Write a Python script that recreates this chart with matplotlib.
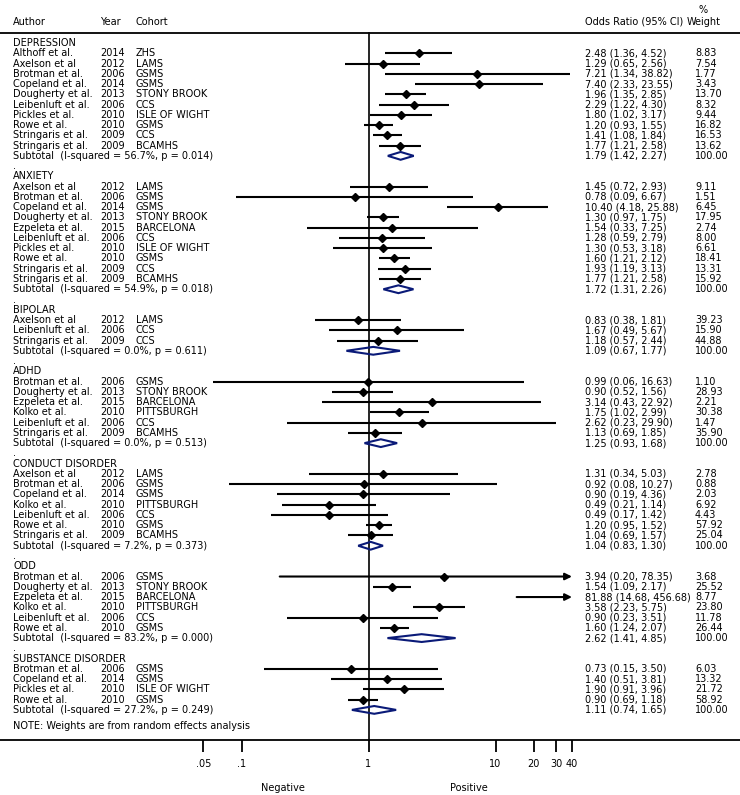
import matplotlib
matplotlib.use("Agg")
import matplotlib.pyplot as plt
import matplotlib.transforms as mtransforms
from matplotlib.patches import Polygon

# ---------------- data ----------------
groups = ["DEPRESSION", "ANXIETY", "BIPOLAR", "ADHD", "CONDUCT DISORDER", "ODD", "SUBSTANCE DISORDER"]

study_group = (["DEPRESSION"] * 10 + ["ANXIETY"] * 10 + ["BIPOLAR"] * 3 + ["ADHD"] * 6
               + ["CONDUCT DISORDER"] * 7 + ["ODD"] * 6 + ["SUBSTANCE DISORDER"] * 4)
study_author = [
    "Althoff et al.", "Axelson et al", "Brotman et al.", "Copeland et al.", "Dougherty et al.",
    "Leibenluft et al.", "Pickles et al.", "Rowe et al.", "Stringaris et al.", "Stringaris et al.",
    "Axelson et al", "Brotman et al.", "Copeland et al.", "Dougherty et al.", "Ezpeleta et al.",
    "Leibenluft et al.", "Pickles et al.", "Rowe et al.", "Stringaris et al.", "Stringaris et al.",
    "Axelson et al", "Leibenluft et al.", "Stringaris et al.",
    "Brotman et al.", "Dougherty et al.", "Ezpeleta et al.", "Kolko et al.", "Leibenluft et al.", "Stringaris et al.",
    "Axelson et al", "Brotman et al.", "Copeland et al.", "Kolko et al.", "Leibenluft et al.", "Rowe et al.", "Stringaris et al.",
    "Brotman et al.", "Dougherty et al.", "Ezpeleta et al.", "Kolko et al.", "Leibenluft et al.", "Rowe et al.",
    "Brotman et al.", "Copeland et al.", "Pickles et al.", "Rowe et al.",
]
study_year = [
    2014, 2012, 2006, 2014, 2013, 2006, 2010, 2010, 2009, 2009,
    2012, 2006, 2014, 2013, 2015, 2006, 2010, 2010, 2009, 2009,
    2012, 2006, 2009,
    2006, 2013, 2015, 2010, 2006, 2009,
    2012, 2006, 2014, 2010, 2006, 2010, 2009,
    2006, 2013, 2015, 2010, 2006, 2010,
    2006, 2014, 2010, 2010,
]
study_cohort = [
    "ZHS", "LAMS", "GSMS", "GSMS", "STONY BROOK", "CCS", "ISLE OF WIGHT", "GSMS", "CCS", "BCAMHS",
    "LAMS", "GSMS", "GSMS", "STONY BROOK", "BARCELONA", "CCS", "ISLE OF WIGHT", "GSMS", "CCS", "BCAMHS",
    "LAMS", "CCS", "CCS",
    "GSMS", "STONY BROOK", "BARCELONA", "PITTSBURGH", "CCS", "BCAMHS",
    "LAMS", "GSMS", "GSMS", "PITTSBURGH", "CCS", "GSMS", "BCAMHS",
    "GSMS", "STONY BROOK", "BARCELONA", "PITTSBURGH", "CCS", "GSMS",
    "GSMS", "GSMS", "ISLE OF WIGHT", "GSMS",
]
study_or = [
    2.48, 1.29, 7.21, 7.40, 1.96, 2.29, 1.80, 1.20, 1.41, 1.77,
    1.45, 0.78, 10.40, 1.30, 1.54, 1.28, 1.30, 1.60, 1.93, 1.77,
    0.83, 1.67, 1.18,
    0.99, 0.90, 3.14, 1.75, 2.62, 1.13,
    1.31, 0.92, 0.90, 0.49, 0.49, 1.20, 1.04,
    3.94, 1.54, 81.88, 3.58, 0.90, 1.60,
    0.73, 1.40, 1.90, 0.90,
]
study_lo = [
    1.36, 0.65, 1.34, 2.33, 1.35, 1.22, 1.02, 0.93, 1.08, 1.21,
    0.72, 0.09, 4.18, 0.97, 0.33, 0.59, 0.53, 1.21, 1.19, 1.21,
    0.38, 0.49, 0.57,
    0.06, 0.52, 0.43, 1.02, 0.23, 0.69,
    0.34, 0.08, 0.19, 0.21, 0.17, 0.95, 0.69,
    0.20, 1.09, 14.68, 2.23, 0.23, 1.24,
    0.15, 0.51, 0.91, 0.69,
]
study_hi = [
    4.52, 2.56, 38.82, 23.55, 2.85, 4.30, 3.17, 1.55, 1.84, 2.58,
    2.93, 6.67, 25.88, 1.75, 7.25, 2.79, 3.18, 2.12, 3.13, 2.58,
    1.81, 5.67, 2.44,
    16.63, 1.56, 22.92, 2.99, 29.90, 1.85,
    5.03, 10.27, 4.36, 1.14, 1.42, 1.52, 1.57,
    78.35, 2.17, 456.68, 5.75, 3.51, 2.07,
    3.50, 3.81, 3.96, 1.18,
]
study_weight = [
    8.83, 7.54, 1.77, 3.43, 13.70, 8.32, 9.44, 16.82, 16.53, 13.62,
    9.11, 1.51, 6.45, 17.95, 2.74, 8.00, 6.61, 18.41, 13.31, 15.92,
    39.23, 15.90, 44.88,
    1.10, 28.93, 2.21, 30.38, 1.47, 35.90,
    2.78, 0.88, 2.03, 6.92, 4.43, 57.92, 25.04,
    3.68, 25.52, 8.77, 23.80, 11.78, 26.44,
    6.03, 13.32, 21.72, 58.92,
]
sub_i2 = [56.7, 54.9, 0.0, 0.0, 7.2, 83.2, 27.2]
sub_p = [0.014, 0.018, 0.611, 0.513, 0.373, 0.000, 0.249]
sub_or = [1.79, 1.72, 1.09, 1.25, 1.04, 2.62, 1.11]
sub_lo = [1.42, 1.31, 0.67, 0.93, 0.83, 1.41, 0.74]
sub_hi = [2.27, 2.26, 1.77, 1.68, 1.30, 4.85, 1.65]

tick_vals = [0.05, 0.1, 1, 10, 20, 30, 40]
tick_labels = [".05", ".1", "1", "10", "20", "30", "40"]

# ---------------- layout ----------------
W, H = 740, 795
X0, DEC = 368.5, 127        # pixel of OR=1, pixels per decade
Y0, ROW = 43, 10.26         # pixel of first row, pixels per row
CLIP_LO, CLIP_HI = 0.05, 40

fig = plt.figure(figsize=(W / 100, H / 100), dpi=100)
ax = fig.add_axes([0, 0, 1, 1])
ax.set_xscale("log")
ax.set_xlim(10 ** (-X0 / DEC), 10 ** ((W - X0) / DEC))
ax.set_ylim((H - Y0) / ROW, -Y0 / ROW)
ax.axis("off")

trans = mtransforms.blended_transform_factory(ax.transAxes, ax.transData)
FS = 7
FONT = "DejaVu Sans"
TC = "black"
NAVY = "#0a1a78"


def txt(px, row, s, ha="left", **kw):
    ax.text(px / W, row, s, transform=trans, ha=ha, va="center", fontsize=FS,
            family=FONT, color=TC, **kw)


COL_AUTH, COL_YEAR, COL_COH, COL_EST, COL_WT = 13, 100, 136, 585, 695

# headers
txt(COL_AUTH, -2.05, "Author")
txt(COL_YEAR, -2.05, "Year")
txt(COL_COH, -2.05, "Cohort")
txt(COL_EST, -2.05, "Odds Ratio (95% CI)")
txt(COL_WT - 8, -2.05, "Weight")
txt(703, -3.2, "%", ha="center")

row = 0
for gi, g in enumerate(groups):
    txt(COL_AUTH, row, g)
    idx = [i for i, sg in enumerate(study_group) if sg == g]
    for i in idx:
        row += 1
        txt(COL_AUTH, row, study_author[i])
        txt(COL_YEAR, row, str(study_year[i]))
        txt(COL_COH, row, study_cohort[i])
        txt(COL_EST, row, f"{study_or[i]:.2f} ({study_lo[i]:.2f}, {study_hi[i]:.2f})")
        txt(COL_WT, row, f"{study_weight[i]:.2f}")
        lo = max(study_lo[i], CLIP_LO)
        hi = min(study_hi[i], CLIP_HI)
        if study_hi[i] > CLIP_HI:
            ax.annotate("", xy=(hi, row), xytext=(lo, row),
                        arrowprops=dict(arrowstyle="-|>", lw=1.5, color="black",
                                        mutation_scale=10, shrinkA=0, shrinkB=0),
                        zorder=3)
        else:
            ax.plot([lo, hi], [row, row], color="black", lw=1.5,
                    solid_capstyle="butt", zorder=3)
        if CLIP_LO <= study_or[i] <= CLIP_HI:
            ax.plot(study_or[i], row, marker="D", ms=4.2, color="black", zorder=4)
    row += 1
    txt(COL_AUTH, row, f"Subtotal  (I-squared = {sub_i2[gi]:.1f}%, p = {sub_p[gi]:.3f})")
    txt(COL_EST, row, f"{sub_or[gi]:.2f} ({sub_lo[gi]:.2f}, {sub_hi[gi]:.2f})")
    txt(COL_WT, row, "100.00")
    h = 0.38
    dia = Polygon([(sub_lo[gi], row), (sub_or[gi], row - h), (sub_hi[gi], row),
                   (sub_or[gi], row + h)], closed=True, fill=False,
                  edgecolor=NAVY, lw=1.5, zorder=4)
    ax.add_patch(dia)
    if gi < len(groups) - 1:
        row += 1
        txt(COL_AUTH, row, ".")
        row += 1

last_row = row
txt(COL_AUTH, last_row + 1.55, "NOTE: Weights are from random effects analysis")

top_row = -1.0
bot_row = (740 - Y0) / ROW
xl = ax.get_xlim()
ax.plot(xl, [top_row, top_row], color="black", lw=1.3, solid_capstyle="butt")
ax.plot(xl, [bot_row, bot_row], color="black", lw=1.3, solid_capstyle="butt")
ax.plot([1, 1], [top_row, bot_row], color="black", lw=1.2, zorder=2)

tick_len = 12 / ROW
ax.vlines(tick_vals, bot_row, bot_row + tick_len, color="black", lw=1.3)
lab_row = (764 - Y0) / ROW
for v, s in zip(tick_vals, tick_labels):
    ax.text(v, lab_row, s, ha="center", va="center", fontsize=FS, family=FONT, color=TC)

side_row = (788 - Y0) / ROW
txt(283, side_row, "Negative", ha="center")
txt(469, side_row, "Positive", ha="center")

fig.savefig("out.png", dpi=100)
